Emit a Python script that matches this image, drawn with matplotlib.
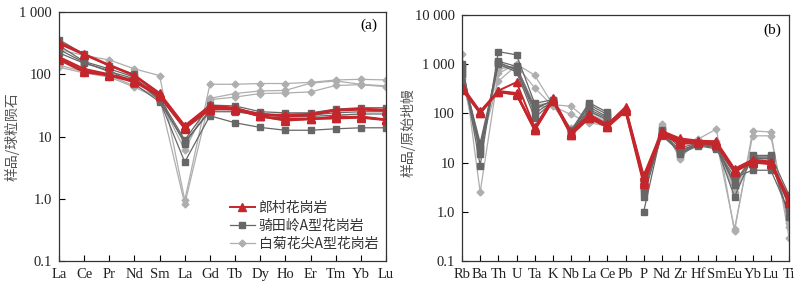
import numpy as np
import matplotlib
matplotlib.use('Agg')
import matplotlib.pyplot as plt
from matplotlib.ticker import FixedLocator, FixedFormatter, NullLocator

plt.rcParams['font.family'] = ['Liberation Serif', 'Noto Sans CJK SC']
plt.rcParams['font.size'] = 10

# ---- chondrite-normalised REE (panel a) ----
ree_labels = ['La', 'Ce', 'Pr', 'Nd', 'Sm', 'La', 'Gd', 'Tb', 'Dy', 'Ho', 'Er', 'Tm', 'Yb', 'Lu']

langcun_ree = [
    [330, 212, 142, 97, 50, 15.0, 31.5, 29, 22, 22.5, 23, 27, 28, 27],
    [310, 205, 138, 94, 48, 14.5, 30, 28, 23, 21, 22, 26, 27, 26],
    [190, 122, 100, 80, 46, 14.0, 29, 28, 21, 19.5, 19.5, 20, 21, 18.8],
    [180, 114, 97, 78, 45, 13.6, 28, 27, 21, 18.4, 19, 21, 20.5, 18.5],
    [170, 108, 95, 75, 44, 13.3, 27, 28, 21, 18, 19, 19.5, 20, 18.3],
]
qitianling_ree = [
    [360, 210, 135, 100, 42, 8.8, 32, 31, 25, 24, 24, 27.5, 29, 29],
    [290, 160, 122, 90, 40, 7.7, 27, 27, 23.6, 22, 22, 24, 25, 25],
    [250, 155, 110, 85, 38, 3.9, 21.5, 16.6, 14, 12.6, 12.6, 13.3, 13.8, 13.8],
    [220, 150, 115, 70, 36, 8.3, 25, 25, 22, 21, 21, 22, 23, 23],
]
baijuhua_ree = [
    [250, 200, 170, 122, 95, 0.95, 69, 69, 71, 71, 74, 81, 83, 81],
    [140, 110, 95, 65, 42, 0.82, 41, 49, 54, 55, 72, 78, 69, 65],
    [130, 105, 90, 62, 40, 6.0, 39, 43, 49, 50, 52, 66, 68, 63],
]

# ---- primitive-mantle-normalised spider (panel b) ----
pm_labels = ['Rb', 'Ba', 'Th', 'U', 'Ta', 'K', 'Nb', 'La', 'Ce', 'Pb',
             'P', 'Nd', 'Zr', 'Hf', 'Sm', 'Eu', 'Yb', 'Lu', 'Ti']
nan = np.nan
langcun_pm = [
    [360, 110, 290, 430, 52, 205, 42, 95, 60, 135, 5.5, 44, 31, 28, 27, 7.5, 11.5, 10.5, 1.9],
    [340, 105, 285, 260, 50, 195, 40, 90, 58, 125, 5.0, 42, 29, 27, 25, 7.2, 11.0, 10.0, 1.7],
    [330, 100, 280, 250, 48, 190, 38, 85, 55, 120, 4.5, 40, 27, 26, 24, 7.0, 10.5, 9.8, 1.6],
    [310, 100, 275, 245, 46, 185, 37, 82, 53, 115, 4.0, 39, 25, 26, 23, 6.8, 10.2, 9.5, 1.55],
    [300, 108, 270, 240, 45, 180, 36, 80, 52, 110, 3.6, 38, 24, 25, 23, 6.5, 10.0, 9.3, 1.5],
]
qitianling_pm = [
    [1000, 8.7, 1800, 1550, 160, 190, 45, 165, 105, nan, 1.0, 45, 20, 25, 22, 2.0, 14, 14, 2.2],
    [850, 20, 1150, 900, 130, 180, 42, 150, 95, nan, 2.0, 40, 18, 24, 21, 4.0, 13, 13, 1.2],
    [700, 25, 1050, 800, 100, 175, 44, 135, 85, nan, 3.0, 38, 16, 23, 20, 6.0, 12, 12, 0.8],
    [620, 18, 1000, 700, 82, 170, 40, 120, 80, nan, 3.5, 42, 15, 22, 19, 5.0, 7, 7, 1.0],
    [900, 15, 1100, 750, 120, 185, 43, 110, 75, nan, 2.5, 35, 17, 24, 21, 3.5, 12.5, 12, 1.4],
]
baijuhua_pm = [
    [1600, 2.5, 650, 1000, 600, 150, 140, 70, 60, nan, 3.0, 60, 12, 30, 48, 0.4, 44, 42, 0.3],
    [550, 20, 450, 950, 330, 140, 95, 65, 55, nan, 2.8, 55, 13, 28, 28, 0.45, 35, 35, 0.5],
    [600, 22, 900, 850, 150, 160, 50, 110, 70, nan, 3.3, 50, 14, 26, 25, 3.0, 13, 13, 0.6],
    [500, 15, 800, 900, 130, 145, 45, 100, 65, nan, 2.5, 48, 15, 25, 22, 2.5, 12, 12, 0.7],
]

names = ['郎村花岗岩', '骑田岭A型花岗岩', '白菊花尖A型花岗岩']
RED = '#c4262b'
DARK = '#676767'
LIGHT = '#aeaeae'
styles = [
    dict(color=RED, marker='^', lw=1.4, ms=5.5),
    dict(color=DARK, marker='s', lw=0.9, ms=5),
    dict(color=LIGHT, marker='D', lw=0.9, ms=3.5),
]
cjk = ['Noto Sans CJK SC', 'Liberation Serif']


def draw_group(ax, x, rows, style, label):
    for i, r in enumerate(rows):
        ax.plot(x, r, mec=style['color'], mfc=style['color'],
                label=label if i == 0 else None, **style)


def style_axes(ax, labels, yticks, yticklabels):
    ax.set_yscale('log')
    ax.set_xlim(0, len(labels) - 1)
    ax.set_ylim(yticks[0], yticks[-1])
    ax.set_xticks(np.arange(len(labels)))
    ax.set_xticklabels(labels)
    ax.yaxis.set_major_locator(FixedLocator(yticks))
    ax.yaxis.set_major_formatter(FixedFormatter(yticklabels))
    ax.yaxis.set_minor_locator(NullLocator())
    ax.tick_params(direction='in', length=4, width=0.8, top=False, right=False,
                   labelsize=10.5, pad=5, labelcolor='#222222')
    for s in ax.spines.values():
        s.set_linewidth(0.9)
        s.set_color('#333333')


fig = plt.figure(figsize=(7.99, 2.84), dpi=100)
ax1 = fig.add_axes([59 / 799, 23 / 284, 327 / 799, 249 / 284])
ax2 = fig.add_axes([462 / 799, 23 / 284, 327 / 799, 246 / 284])

x1 = np.arange(len(ree_labels))
draw_group(ax1, x1, baijuhua_ree, styles[2], names[2])
draw_group(ax1, x1, qitianling_ree, styles[1], names[1])
draw_group(ax1, x1, langcun_ree, styles[0], names[0])
style_axes(ax1, ree_labels, [0.1, 1, 10, 100, 1000], ['0.1', '1.0', '10', '100', '1 000'])
ax1.set_ylabel('样品/球粒陨石', family=cjk, fontsize=10, color='#555555')
ax1.yaxis.set_label_coords(-0.12, 0.5)
ax1.text(0.975, 0.975, '(a)', transform=ax1.transAxes, ha='right', va='top', fontsize=11)

h, l = ax1.get_legend_handles_labels()
leg = ax1.legend(h[::-1], l[::-1], loc='lower right', bbox_to_anchor=(1.015, -0.01),
                 frameon=False, handlelength=1.8, handletextpad=0.3, labelspacing=0.3,
                 prop=dict(family=cjk, size=10))
for t in leg.get_texts():
    t.set_color('#333333')

x2 = np.arange(len(pm_labels))
draw_group(ax2, x2, baijuhua_pm, styles[2], names[2])
draw_group(ax2, x2, qitianling_pm, styles[1], names[1])
draw_group(ax2, x2, langcun_pm, styles[0], names[0])
style_axes(ax2, pm_labels, [0.1, 1, 10, 100, 1000, 10000],
           ['0.1', '1.0', '10', '100', '1 000', '10 000'])
ax2.set_ylabel('样品/原始地幔', family=cjk, fontsize=10, color='#555555')
ax2.yaxis.set_label_coords(-0.143, 0.52)
ax2.text(0.975, 0.965, '(b)', transform=ax2.transAxes, ha='right', va='top', fontsize=11)

fig.savefig('out.png', dpi=100)
